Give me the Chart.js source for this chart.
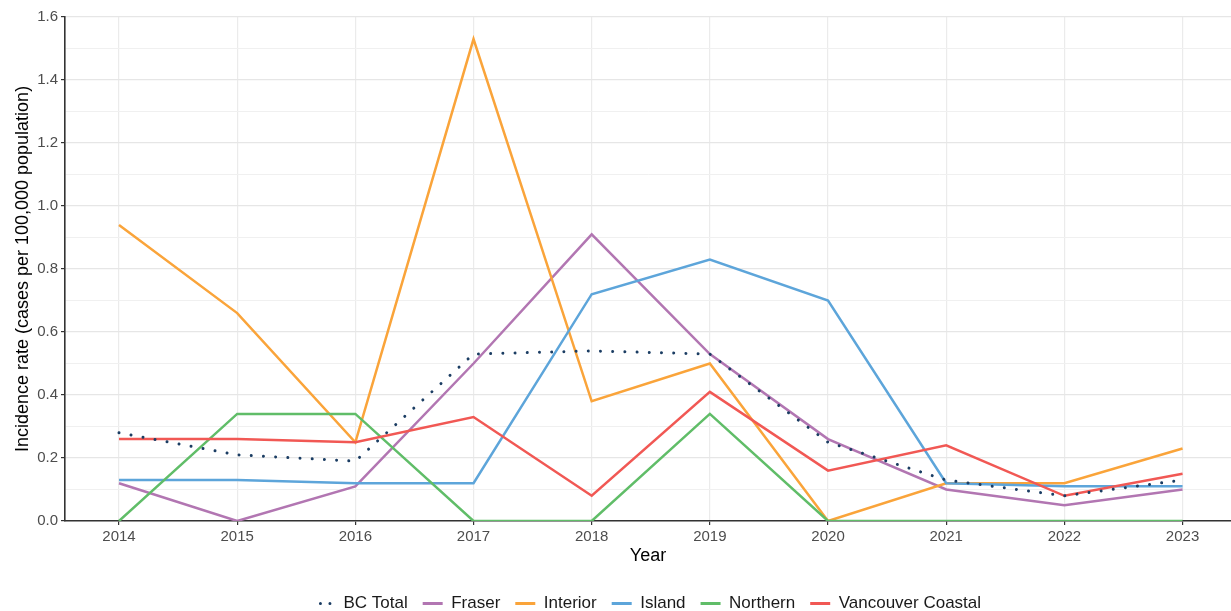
<!DOCTYPE html>
<html>
<head>
<meta charset="utf-8">
<script src="https://cdn.jsdelivr.net/npm/chart.js@4/dist/chart.umd.min.js"></script>
<style>
  html, body { margin: 0; padding: 0; background: #fff; overflow: hidden; }
  #wrap { width: 1231px; height: 622px; }
</style>
</head>
<body>
<div id="wrap"><canvas id="c" width="1231" height="622"></canvas></div>
<script>
const years = [2014, 2015, 2016, 2017, 2018, 2019, 2020, 2021, 2022, 2023];
const yTicks = [0, 0.1, 0.2, 0.3, 0.4, 0.5, 0.6, 0.7, 0.8, 0.9, 1.0, 1.1, 1.2, 1.3, 1.4, 1.5, 1.6];

const bcTotal          = [0.28, 0.21, 0.19, 0.53, 0.54, 0.53, 0.25, 0.13, 0.08, 0.13];
const fraser           = [0.12, 0.00, 0.11, 0.50, 0.91, 0.53, 0.26, 0.10, 0.05, 0.10];
const interior         = [0.94, 0.66, 0.25, 1.53, 0.38, 0.50, 0.00, 0.12, 0.12, 0.23];
const island           = [0.13, 0.13, 0.12, 0.12, 0.72, 0.83, 0.70, 0.12, 0.11, 0.11];
const northern         = [0.00, 0.34, 0.34, 0.00, 0.00, 0.34, 0.00, 0.00, 0.00, 0.00];
const vancouverCoastal = [0.26, 0.26, 0.25, 0.33, 0.08, 0.41, 0.16, 0.24, 0.08, 0.15];

const toXY = arr => arr.map((v, i) => ({ x: years[i], y: v }));

const FONT = 'Liberation Sans, Arial, sans-serif';
const LEGEND_PAD = 15;
const CANVAS_H = 622;

function series(label, values, color, order, extra) {
  return Object.assign({
    label, data: toXY(values), borderColor: color, backgroundColor: color,
    borderWidth: 2.5, pointRadius: 0, pointHoverRadius: 0, tension: 0, fill: false,
    order, pointStyle: 'line'
  }, extra || {});
}

const datasets = [
  series('BC Total', bcTotal, '#1b3d63', 0, { borderWidth: 3, borderDash: [0.01, 12.2], borderCapStyle: 'round' }),
  series('Fraser', fraser, '#B276B2', 5),
  series('Interior', interior, '#FAA43A', 4),
  series('Island', island, '#5DA5DA', 3),
  series('Northern', northern, '#60BD68', 2),
  series('Vancouver Coastal', vancouverCoastal, '#F15854', 1)
];

function legendLabels(chart) {
  const items = Chart.defaults.plugins.legend.labels.generateLabels(chart);
  items.sort((a, b) => a.datasetIndex - b.datasetIndex);
  items.forEach(it => {
    const ds = chart.data.datasets[it.datasetIndex];
    it.pointStyle = 'line';
    it.strokeStyle = ds.borderColor;
    it.fillStyle = ds.borderColor;
    it.lineWidth = 3;
    if (ds.borderDash) {
      it.lineDash = [0.01, 9.5];
      it.lineDashOffset = -5.5;
      it.lineCap = 'round';
    } else {
      it.lineDash = [];
      it.lineCap = 'butt';
    }
  });
  return items;
}

new Chart(document.getElementById('c'), {
  type: 'line',
  data: { datasets },
  options: {
    responsive: false,
    animation: false,
    layout: { padding: { top: 17, left: 0, right: 0, bottom: 0 } },
    plugins: {
      tooltip: { enabled: false },
      legend: {
        position: 'bottom',
        fullSize: false,
        labels: {
          usePointStyle: true,
          pointStyleWidth: 20,
          padding: LEGEND_PAD,
          color: '#1a1a1a',
          font: { family: FONT, size: 17 },
          generateLabels: legendLabels
        }
      }
    },
    scales: {
      x: {
        type: 'linear',
        min: 2013.543,
        max: 2023.41,
        afterBuildTicks: s => { s.ticks = years.map(v => ({ value: v })); },
        afterFit: s => { s.height = CANVAS_H - 521 - (27 + LEGEND_PAD); },
        ticks: {
          autoSkip: false,
          maxRotation: 0,
          padding: 3,
          color: '#4d4d4d',
          font: { family: FONT, size: 15 },
          callback: v => String(v)
        },
        grid: { color: '#ebebeb', lineWidth: 1.2, drawTicks: true, tickLength: 4, tickColor: '#333333' },
        border: { display: true, color: '#333333', width: 1.6 },
        title: {
          display: true, text: 'Year', color: '#000',
          font: { family: FONT, size: 18 },
          padding: { top: 0, bottom: 13 }
        }
      },
      y: {
        type: 'linear',
        min: 0,
        max: 1.6,
        afterBuildTicks: s => { s.ticks = yTicks.map(v => ({ value: v })); },
        afterFit: s => { s.width = 65; },
        ticks: {
          autoSkip: false,
          padding: 3,
          color: '#4d4d4d',
          font: { family: FONT, size: 15 },
          callback: (v, i) => (i % 2 === 0 ? v.toFixed(1) : '')
        },
        grid: {
          color: c => (c.index % 2 === 0 ? '#e6e6e6' : '#f0f0f0'),
          lineWidth: c => (c.index % 2 === 0 ? 1.2 : 1),
          drawTicks: true, tickLength: 4,
          tickColor: c => (c.index % 2 === 0 ? '#333333' : 'rgba(0,0,0,0)')
        },
        border: { display: true, color: '#333333', width: 1.6 },
        title: {
          display: true, text: 'Incidence rate (cases per 100,000 population)', color: '#000',
          font: { family: FONT, size: 18 },
          padding: { top: 12, bottom: 0 }
        }
      }
    }
  }
});
</script>
</body>
</html>
